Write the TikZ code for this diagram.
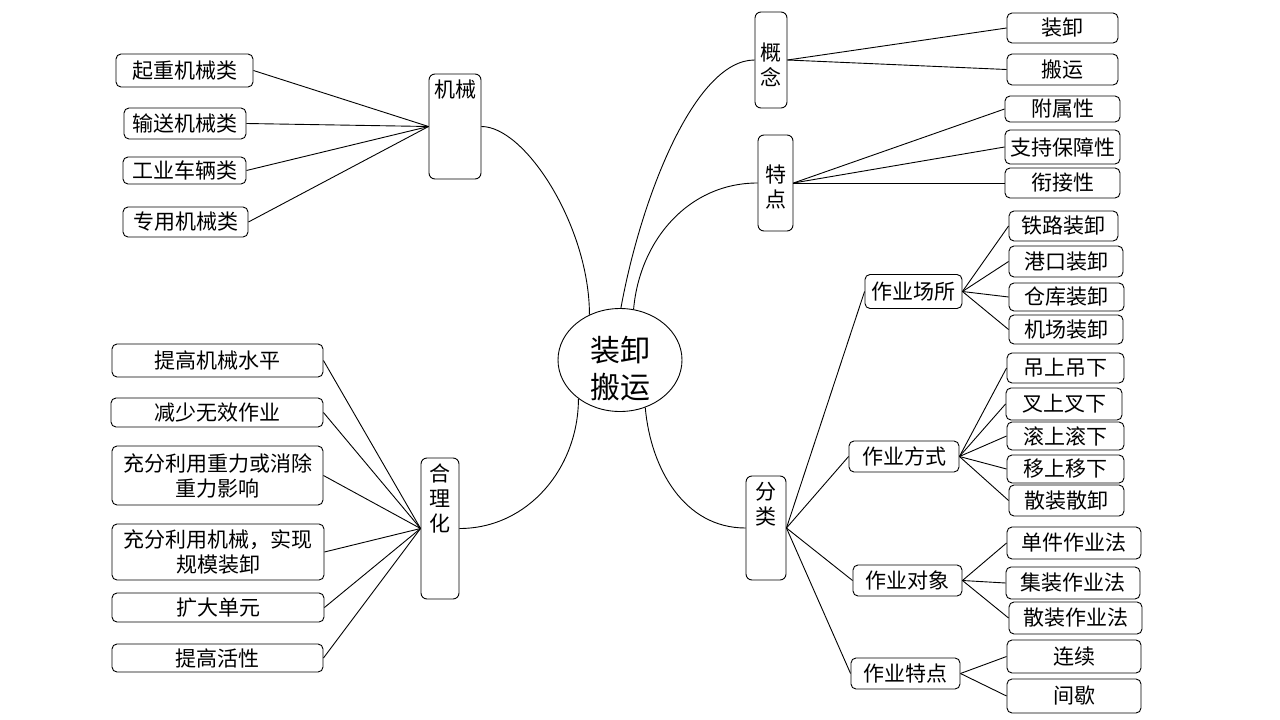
\documentclass[tikz,border=0pt]{standalone}
\usepackage{fontspec}
\setmainfont{Noto Sans CJK SC}
\usetikzlibrary{shapes.geometric}

\begin{document}
\begin{tikzpicture}[x=1pt,y=-1pt,line width=0.9pt,
  leaf/.style={draw,rounded corners=5pt,inner sep=0pt,align=center,font=\fontsize{21}{25}\selectfont},
  branch/.style={draw,rounded corners=6pt,inner sep=0pt},
  btext/.style={inner sep=0pt,align=center,font=\fontsize{21}{25}\selectfont}]

\useasboundingbox[fill=white] (0,0) rectangle (1280,720);

\node[ellipse,draw,inner sep=0pt,minimum width=124,minimum height=103] (c) at (620,360) {};
\node[btext,font=\fontsize{30}{37}\selectfont] (ct) at (620,369) {装卸\\搬运};

\node[branch,minimum width=52,minimum height=105] (jx) at (455,126.5) {};
\node[btext] (jxt) at (455,90) {机械};
\node[branch,minimum width=32,minimum height=96] (gn) at (771,60) {};
\node[btext] (gnt) at (771,64.5) {概\\念};
\node[branch,minimum width=35,minimum height=96] (td) at (775.5,183) {};
\node[btext] (tdt) at (775.5,187) {特\\点};
\node[branch,minimum width=38,minimum height=141] (hl) at (440,528.5) {};
\node[btext] (hlt) at (440,498) {合\\理\\化};
\node[branch,minimum width=40,minimum height=104] (fl) at (766,528) {};
\node[btext] (flt) at (766,504.5) {分\\类};

\node[leaf,minimum width=137,minimum height=33] (j1) at (184.5,70.5) {起重机械类};
\node[leaf,minimum width=122,minimum height=31] (j2) at (185,123.5) {输送机械类};
\node[leaf,minimum width=123,minimum height=27] (j3) at (184.5,170.5) {工业车辆类};
\node[leaf,minimum width=125,minimum height=30] (j4) at (185.5,222) {专用机械类};

\node[leaf,minimum width=211,minimum height=33] (h1) at (217.5,360.5) {提高机械水平};
\node[leaf,minimum width=212,minimum height=29] (h2) at (217,412.5) {减少无效作业};
\node[leaf,minimum width=211,minimum height=59] (h3) at (217.5,475.5) {充分利用重力或消除\\重力影响};
\node[leaf,minimum width=212,minimum height=56] (h4) at (218,552) {充分利用机械，实现\\规模装卸};
\node[leaf,minimum width=212,minimum height=29] (h5) at (218,607.5) {扩大单元};
\node[leaf,minimum width=211,minimum height=28] (h6) at (217.5,658) {提高活性};

\node[leaf,minimum width=111,minimum height=30] (g1) at (1062.5,28) {装卸};
\node[leaf,minimum width=111,minimum height=31] (g2) at (1062.5,69.5) {搬运};

\node[leaf,minimum width=115,minimum height=26] (t1) at (1062.5,109) {附属性};
\node[leaf,minimum width=115,minimum height=34] (t2) at (1062.5,147) {支持保障性};
\node[leaf,minimum width=115,minimum height=30] (t3) at (1062.5,183) {衔接性};

\node[leaf,minimum width=97,minimum height=34] (s1) at (913.5,291.5) {作业场所};
\node[leaf,minimum width=110,minimum height=31] (s2) at (904,456.5) {作业方式};
\node[leaf,minimum width=109,minimum height=31] (s3) at (907.5,580.5) {作业对象};
\node[leaf,minimum width=109,minimum height=31] (s4) at (905.5,673.5) {作业特点};

\node[leaf,minimum width=109,minimum height=30] (a1) at (1063.5,226) {铁路装卸};
\node[leaf,minimum width=114,minimum height=31] (a2) at (1066,261.5) {港口装卸};
\node[leaf,minimum width=115,minimum height=28] (a3) at (1066.5,297) {仓库装卸};
\node[leaf,minimum width=114,minimum height=29] (a4) at (1066,329.5) {机场装卸};

\node[leaf,minimum width=117,minimum height=30] (b1) at (1065.5,368) {吊上吊下};
\node[leaf,minimum width=116,minimum height=32] (b2) at (1064,404) {叉上叉下};
\node[leaf,minimum width=117,minimum height=28] (b3) at (1065.5,436) {滚上滚下};
\node[leaf,minimum width=117,minimum height=28] (b4) at (1065.5,469) {移上移下};
\node[leaf,minimum width=115,minimum height=31] (b5) at (1066.5,500.5) {散装散卸};

\node[leaf,minimum width=134,minimum height=32] (d1) at (1074,543) {单件作业法};
\node[leaf,minimum width=134,minimum height=32] (d2) at (1073,583) {集装作业法};
\node[leaf,minimum width=133,minimum height=32] (d3) at (1075.5,618) {散装作业法};

\node[leaf,minimum width=134,minimum height=33] (e1) at (1074,656.5) {连续};
\node[leaf,minimum width=134,minimum height=34] (e2) at (1074,696) {间歇};

\draw (jx.east) .. controls +(44,0) and +(0,-88) .. (c.124);
\draw (c.89) .. controls +(20,-110) and +(-60,0) .. (gn.west);
\draw (c.75) to[out=85,in=180] (td.west);
\draw (c.223) to[out=-90,in=0] (hl.east);
\draw (c.-62) to[out=-85,in=180] (fl.west);

\draw (jx.west) -- (j1.east);
\draw (jx.west) -- (j2.east);
\draw (jx.west) -- (j3.east);
\draw (jx.west) -- (j4.east);

\draw (hl.west) -- (h1.east);
\draw (hl.west) -- (h2.east);
\draw (hl.west) -- (h3.east);
\draw (hl.west) -- (h4.east);
\draw (hl.west) -- (h5.east);
\draw (hl.west) -- (h6.east);

\draw (gn.east) -- (g1.west);
\draw (gn.east) -- (g2.west);

\draw (td.east) -- (t1.west);
\draw (td.east) -- (t2.west);
\draw (td.east) -- (t3.west);

\draw (fl.east) -- (s1.west);
\draw (fl.east) -- (s2.west);
\draw (fl.east) -- (s3.west);
\draw (fl.east) -- (s4.west);

\draw (s1.east) -- (a1.west);
\draw (s1.east) -- (a2.west);
\draw (s1.east) -- (a3.west);
\draw (s1.east) -- (a4.west);

\draw (s2.east) -- (b1.west);
\draw (s2.east) -- (b2.west);
\draw (s2.east) -- (b3.west);
\draw (s2.east) -- (b4.west);
\draw (s2.east) -- (b5.west);

\draw (s3.east) -- (d1.west);
\draw (s3.east) -- (d2.west);
\draw (s3.east) -- (d3.west);

\draw (s4.east) -- (e1.west);
\draw (s4.east) -- (e2.west);
\end{tikzpicture}
\end{document}
